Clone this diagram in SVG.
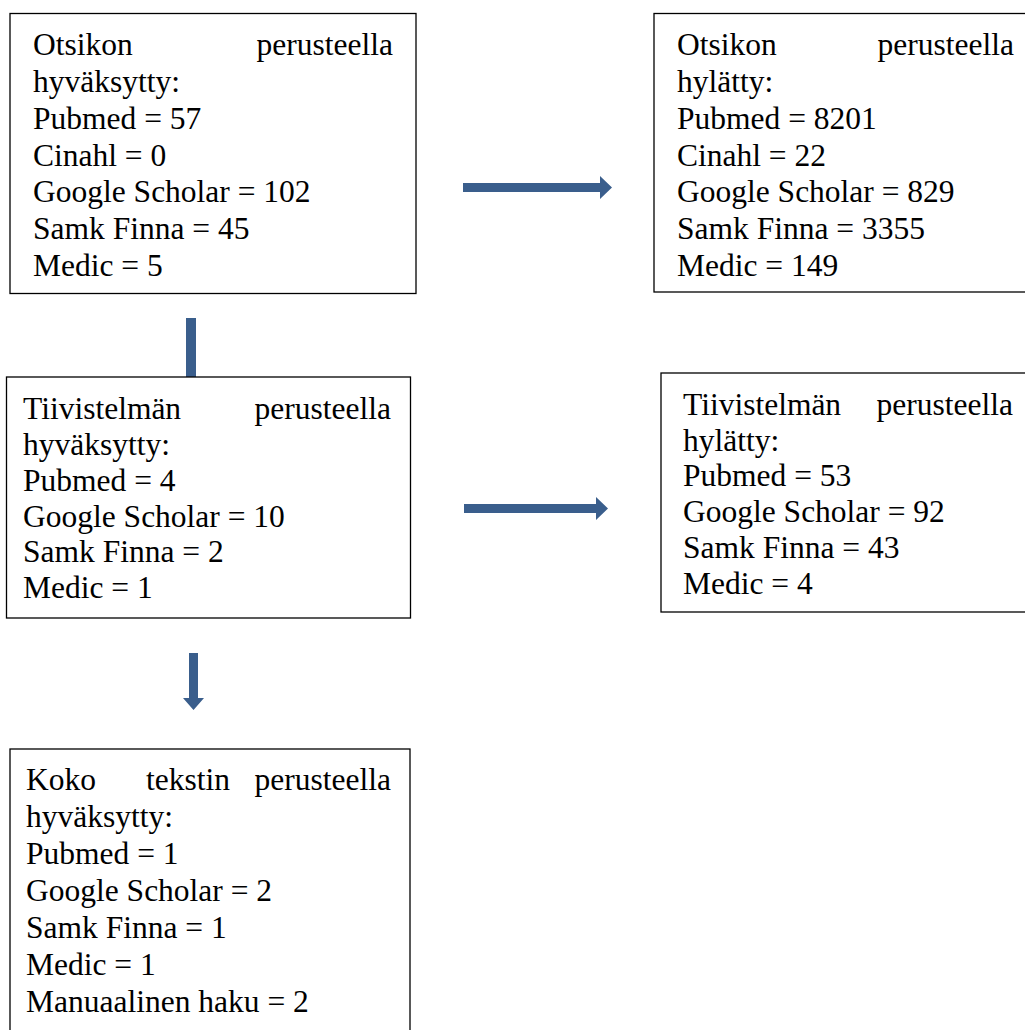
<svg xmlns="http://www.w3.org/2000/svg" width="1025" height="1030" viewBox="0 0 1025 1030">
<style>
.box{fill:#fff;stroke:#000;stroke-width:1.3}
.t{font-family:"Liberation Serif","Times New Roman",serif;font-size:31.5px;fill:#000}
.e{text-anchor:end}
.arr{fill:#3A5E8C}
</style>
<rect width="1025" height="1030" fill="#fff"/>
<g id="connectors">
<path class="arr" d="M463,183 H600 V176 L612,187.5 L600,199 V192 H463 Z"/>
<rect class="arr" x="186" y="318" width="10" height="60"/>
<path class="arr" d="M464,504 H596 V497 L608,508.5 L596,520 V513 H464 Z"/>
<path class="arr" d="M189,653 H198 V698 H204 L193.5,710 L183,698 H189 Z"/>
</g>
<g id="n1">
<rect class="box" x="10" y="13.5" width="406" height="280"/>
<text class="t" x="33" y="55">Otsikon</text>
<text class="t e" x="393" y="55">perusteella</text>
<text class="t" x="33" y="92">hyväksytty:</text>
<text class="t" x="33" y="128.5">Pubmed = 57</text>
<text class="t" x="33" y="165.5">Cinahl = 0</text>
<text class="t" x="33" y="202">Google Scholar = 102</text>
<text class="t" x="33" y="239">Samk Finna = 45</text>
<text class="t" x="33" y="275.5">Medic = 5</text>
</g>
<g id="n2">
<rect class="box" x="654" y="13.5" width="380" height="278.5"/>
<text class="t" x="677" y="55">Otsikon</text>
<text class="t e" x="1014" y="55">perusteella</text>
<text class="t" x="677" y="92">hylätty:</text>
<text class="t" x="677" y="128.5">Pubmed = 8201</text>
<text class="t" x="677" y="165.5">Cinahl = 22</text>
<text class="t" x="677" y="202">Google Scholar = 829</text>
<text class="t" x="677" y="239">Samk Finna = 3355</text>
<text class="t" x="677" y="275.5">Medic = 149</text>
</g>
<g id="n3">
<rect class="box" x="6.5" y="377" width="404" height="241"/>
<text class="t" x="23" y="419">Tiivistelmän</text>
<text class="t e" x="391" y="419">perusteella</text>
<text class="t" x="23" y="455">hyväksytty:</text>
<text class="t" x="23" y="490.5">Pubmed = 4</text>
<text class="t" x="23" y="526.5">Google Scholar = 10</text>
<text class="t" x="23" y="562">Samk Finna = 2</text>
<text class="t" x="23" y="598">Medic = 1</text>
</g>
<g id="n4">
<rect class="box" x="661" y="373" width="380" height="239"/>
<text class="t" x="683" y="414.5">Tiivistelmän</text>
<text class="t e" x="1013" y="414.5">perusteella</text>
<text class="t" x="683" y="450.5">hylätty:</text>
<text class="t" x="683" y="486">Pubmed = 53</text>
<text class="t" x="683" y="522">Google Scholar = 92</text>
<text class="t" x="683" y="557.5">Samk Finna = 43</text>
<text class="t" x="683" y="593.5">Medic = 4</text>
</g>
<g id="n5">
<rect class="box" x="10" y="749" width="400" height="300"/>
<text class="t" x="26" y="790">Koko</text>
<text class="t" x="146" y="790">tekstin</text>
<text class="t e" x="391" y="790">perusteella</text>
<text class="t" x="26" y="827">hyväksytty:</text>
<text class="t" x="26" y="864">Pubmed = 1</text>
<text class="t" x="26" y="901">Google Scholar = 2</text>
<text class="t" x="26" y="938">Samk Finna = 1</text>
<text class="t" x="26" y="975">Medic = 1</text>
<text class="t" x="26" y="1012">Manuaalinen haku = 2</text>
</g>
</svg>
